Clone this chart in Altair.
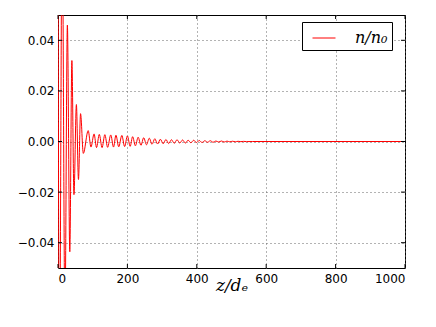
import altair as alt
import pandas as pd

# z/d_e positions of the turning points
z_vals = [0, 4, 12, 20, 27, 34, 40, 46, 53, 59, 65, 73,
          87, 95, 104, 111, 119, 127, 135, 143, 152, 160, 167, 175,
          184, 192, 200, 208, 215, 223, 231, 239, 247, 255, 263, 271,
          279, 287, 295, 303, 311, 319, 327, 335, 343, 351, 359, 367,
          375, 383, 391, 399, 407, 415, 423, 431, 439, 447, 455, 463,
          471, 479, 487, 495, 503, 511, 519, 527, 535, 543, 560, 1000]
# n/n0 values at those points
n_vals = [0.09, -0.10, 0.09, -0.07, 0.046, -0.0436, 0.032, -0.021, 0.0146, -0.015, 0.011, -0.0047,
          0.0043, -0.0022, 0.0030, -0.0024, 0.0028, -0.0024, 0.0027, -0.0023, 0.0026, -0.0022, 0.0025, -0.0021,
          0.0024, -0.0020, 0.0022, -0.0019, 0.0019, -0.0017, 0.0017, -0.0015, 0.0015, -0.0013, 0.0013, -0.0011,
          0.0011, -0.0010, 0.0009, -0.0009, 0.0008, -0.0008, 0.0007, -0.0007, 0.0007, -0.0006, 0.0006, -0.0006,
          0.0005, -0.0005, 0.0005, -0.0004, 0.0004, -0.0004, 0.0003, -0.0003, 0.0003, -0.0003, 0.0002, -0.0002,
          0.0002, -0.0002, 0.00015, -0.00012, 0.0001, -0.0001, 0.00008, -0.00006, 0.00005, -0.00004, 0.0, 0.0]

x_ticks = [0, 200, 400, 600, 800, 1000]
y_ticks = [-0.04, -0.02, 0.00, 0.02, 0.04]
series_name = "n/n\u2080"

W, H = 347, 253

df = pd.DataFrame({"z": z_vals, "n": n_vals, "series": [series_name] * len(z_vals)})
xt = pd.DataFrame({"z": x_ticks})
yt = pd.DataFrame({"n": y_ticks})

xscale = alt.Scale(domain=[0, 1000], nice=False, zero=False)
yscale = alt.Scale(domain=[-0.05, 0.05], nice=False, zero=False)

xaxis = alt.Axis(values=x_ticks, title="z/d\u2091", format="d",
                 titleFont="DejaVu Serif", titleFontStyle="italic",
                 titleFontWeight="normal", titleFontSize=17,
                 titleBaseline="alphabetic", titleY=22, labelPadding=5)
yaxis = alt.Axis(values=y_ticks, title=None, format=".2f")

line = alt.Chart(df).mark_line(clip=True, strokeWidth=1, interpolate="monotone").encode(
    x=alt.X("z:Q", scale=xscale, axis=xaxis),
    y=alt.Y("n:Q", scale=yscale, axis=yaxis),
    color=alt.Color("series:N", scale=alt.Scale(range=["#ff0000"]),
                    legend=alt.Legend(title=None, orient="none", legendX=244, legendY=7,
                                      symbolType="stroke", symbolSize=529, symbolStrokeWidth=1,
                                      symbolOffset=6,
                                      labelFont="DejaVu Serif", labelFontStyle="italic",
                                      labelFontSize=16, labelOffset=19, padding=4,
                                      strokeColor="black", fillColor="white",
                                      cornerRadius=0, labelColor="black")),
)

tick_x_bottom = alt.Chart(xt).mark_rule(color="black", strokeWidth=1).encode(
    x=alt.X("z:Q", scale=xscale, axis=xaxis), y=alt.value(H), y2=alt.value(H - 4))
tick_x_top = alt.Chart(xt).mark_rule(color="black", strokeWidth=1).encode(
    x=alt.X("z:Q", scale=xscale, axis=xaxis), y=alt.value(0), y2=alt.value(4))
tick_y_left = alt.Chart(yt).mark_rule(color="black", strokeWidth=1).encode(
    y=alt.Y("n:Q", scale=yscale, axis=yaxis), x=alt.value(0), x2=alt.value(4))
tick_y_right = alt.Chart(yt).mark_rule(color="black", strokeWidth=1).encode(
    y=alt.Y("n:Q", scale=yscale, axis=yaxis), x=alt.value(W), x2=alt.value(W - 4))

chart = alt.layer(line, tick_x_bottom, tick_x_top, tick_y_left, tick_y_right).properties(
    width=W, height=H,
    autosize=alt.AutoSizeParams(type="none"),
    padding={"left": 50, "top": 7, "right": 15, "bottom": 45},
).configure_view(
    stroke="black", strokeWidth=1
).configure_axis(
    domain=False, ticks=False, tickSize=0, grid=True,
    gridColor="#666666", gridDash=[1, 3], gridWidth=1,
    labelFont="DejaVu Sans", labelFontSize=12, labelColor="black", labelPadding=4,
    titleColor="black"
)

chart.save("out.html", embed_options={"renderer": "svg", "actions": False})
